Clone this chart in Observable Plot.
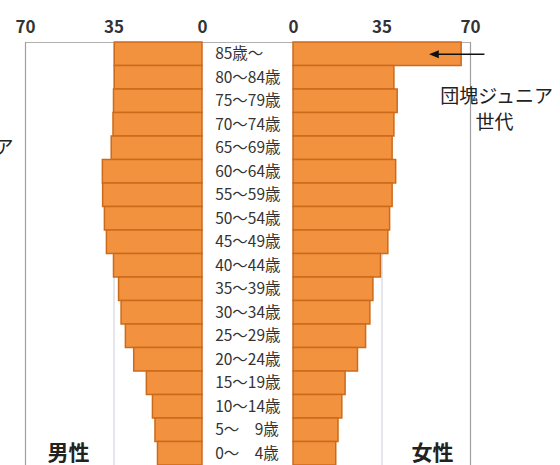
<!DOCTYPE html>
<html><head><meta charset="utf-8">
<script src="https://cdn.jsdelivr.net/npm/d3@7"></script>
<script src="https://cdn.jsdelivr.net/npm/@observablehq/plot@0.6"></script>
<style>
body{margin:0;background:#fff}
svg{font-family:"Noto Sans CJK JP","Noto Sans",sans-serif}
</style>
</head><body><div id="chart"></div>
<script>
const ages = ["85歳～","80～84歳","75～79歳","70～74歳","65～69歳","60～64歳","55～59歳","50～54歳","45～49歳","40～44歳","35～39歳","30～34歳","25～29歳","20～24歳","15～19歳","10～14歳","5～　9歳","0～　4歳"];
const male = [34.7,34.7,35.0,35.2,35.9,39.4,39.3,38.6,37.8,35.0,33.0,32.0,30.3,27.0,22.0,19.6,18.6,17.6];
const female = [66.5,39.9,41.2,39.9,39.2,40.6,39.2,38.2,37.5,34.6,31.6,30.4,28.7,25.5,20.6,19.3,17.8,16.9];
const tickValues = [70,35,0];
const sexLabels = ["男性","女性"];
const annotation = ["団塊ジュニア","世代"];
const gap = 18;

const data = ages.map((a,i)=>({age:a, male:male[i], female:female[i]}));
const tickPos = [...tickValues.map(t=>-(t+gap)), ...tickValues.slice().reverse().map(t=>t+gap)];
const fillC = "#f2923f", strokeC = "#cc6a1c";
const last = ages[ages.length-1];

const plot = Plot.plot({
  width:560, height:465, marginLeft:25, marginRight:90, marginTop:42, marginBottom:0,
  x:{domain:[-88,88]},
  y:{domain:ages, padding:0, round:false, axis:null},
  marks:[
    Plot.frame({anchor:"top", stroke:"#b0b0b0"}),
    Plot.ruleX([-(35+gap), 35+gap], {stroke:"#c9cdd9"}),
    Plot.ruleX([-(70+gap), 70+gap], {stroke:"#a0a0a0", strokeWidth:1.2}),
    Plot.barX(data, {y:"age", x1:-gap, x2:d=>-(d.male+gap), fill:fillC, stroke:strokeC, strokeWidth:1.5}),
    Plot.barX(data, {y:"age", x1:gap, x2:d=>d.female+gap, fill:fillC, stroke:strokeC, strokeWidth:1.5}),
    Plot.text(data, {y:"age", x:-13, text:"age", textAnchor:"start", fontSize:15.5, fill:"#333"}),
    Plot.axisX({anchor:"top", ticks:tickPos, tickFormat:d=>Math.abs(d)-gap, tickSize:0, tickPadding:10, fontSize:17, fontWeight:"bold", fill:"#333"}),
    Plot.text([sexLabels[0]], {x:-71, y:()=>last, text:d=>d, fontSize:21, fontWeight:"bold", fill:"#222"}),
    Plot.text([sexLabels[1]], {x:73, y:()=>last, text:d=>d, fontSize:21, fontWeight:"bold", fill:"#222"}),
    Plot.link([0], {x1:93.5, x2:72.5, y1:()=>ages[0], y2:()=>ages[0], stroke:"#111", strokeWidth:1.5, markerEnd:"arrow"}),
    Plot.text([annotation[0]], {x:98.3, y:()=>ages[2], dy:-4, text:d=>d, fontSize:19, fill:"#222"}),
    Plot.text([annotation[1]], {x:97.5, y:()=>ages[3], dy:-2, text:d=>d, fontSize:19, fill:"#222"}),
    Plot.text([annotation[0]], {x:-92.7, y:()=>ages[4], text:d=>d, textAnchor:"end", fontSize:19, fill:"#222"})
  ]
});
d3.select(plot).selectAll("marker").attr("overflow","visible").attr("markerWidth",10).attr("markerHeight",10);
d3.select(plot).selectAll("marker path").attr("d","M-5,-2.6L1.5,0L-5,2.6Z").attr("fill","#111").attr("stroke","none");
document.getElementById("chart").appendChild(plot);
</script>
</body></html>
